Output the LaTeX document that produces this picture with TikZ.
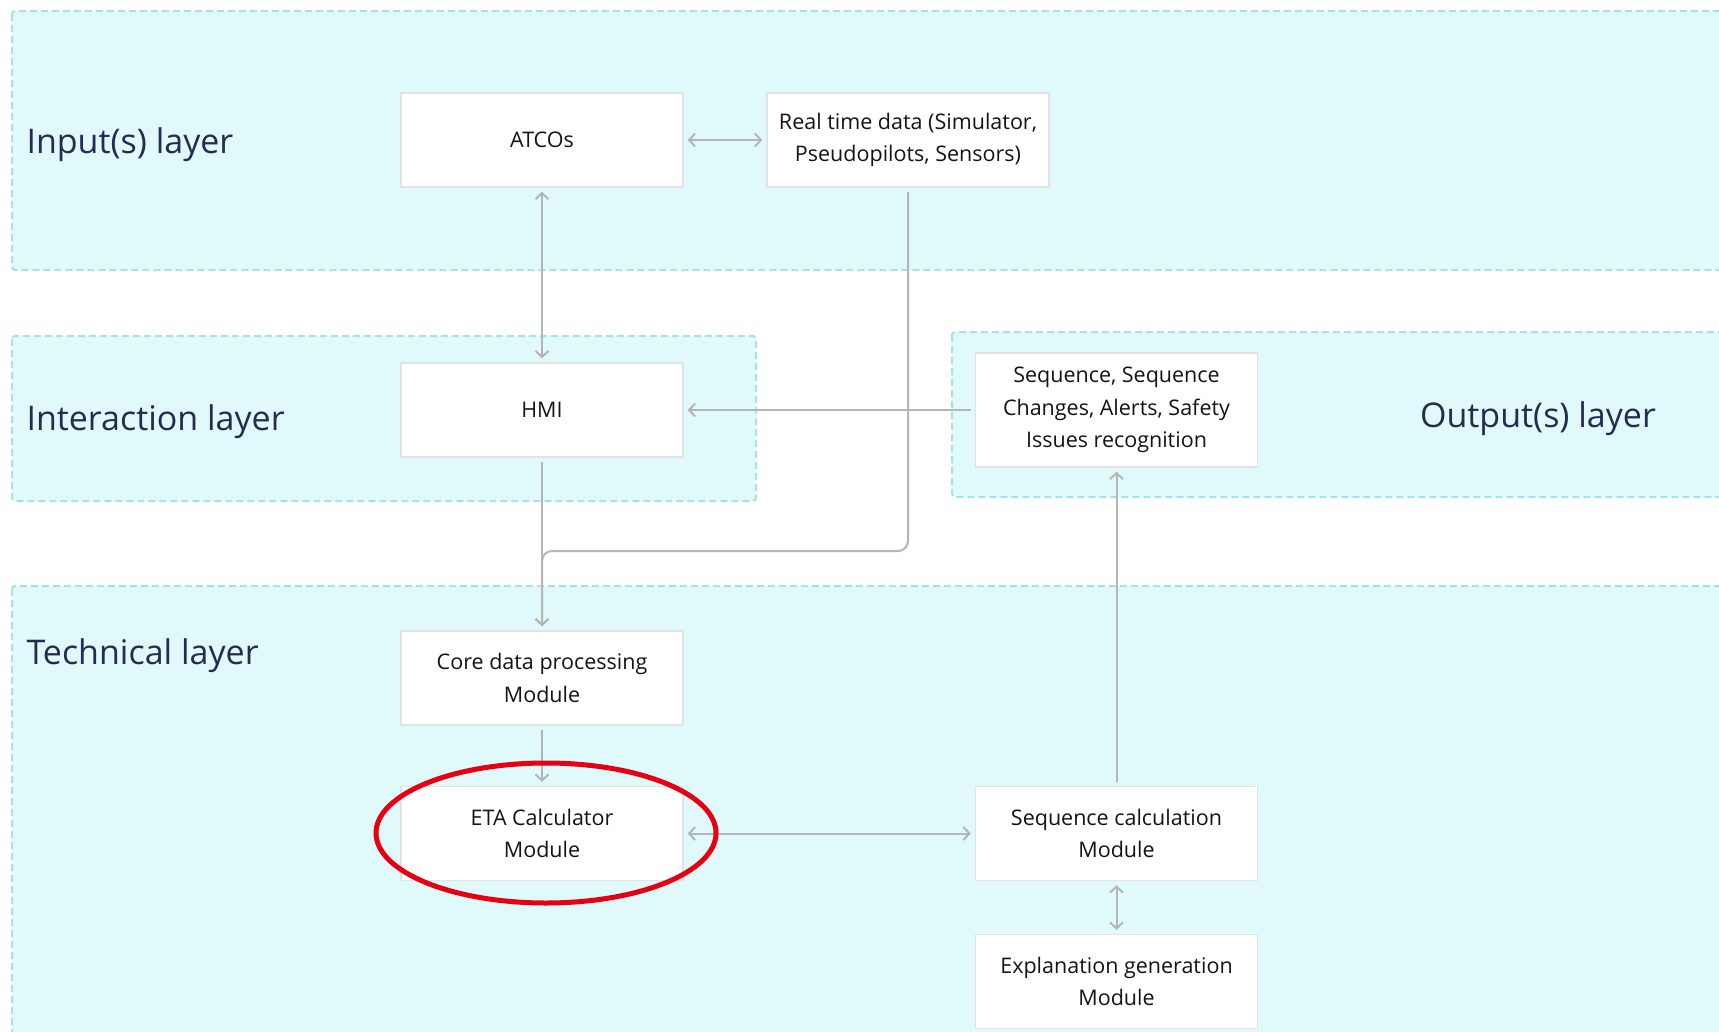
\documentclass[tikz,border=0pt]{standalone}
\usepackage{fontspec}
\setmainfont{Open Sans}
\usetikzlibrary{arrows.meta}
\definecolor{layerfill}{HTML}{E0FAFB}
\definecolor{layerline}{HTML}{A6E3E8}
\definecolor{linkgray}{HTML}{B5B5B5}
\definecolor{boxline}{HTML}{E2E2E2}
\definecolor{labelnavy}{HTML}{262B52}
\definecolor{markred}{HTML}{E60012}

\begin{document}
\begin{tikzpicture}[x=1pt, y=-1pt,
	layer/.style={draw=layerline, fill=layerfill, line width=2pt,
		dash pattern=on 7pt off 4pt, rounded corners=3pt},
	layername/.style={anchor=base west, text=labelnavy,
		font=\fontsize{34}{40}\selectfont},
	module/.style={draw=boxline, fill=white, line width=1.5pt,
		minimum width=282pt, minimum height=94pt, inner sep=0pt, align=center,
		text=black!92, font=\fontsize{21.5}{32.5}\selectfont},
	link/.style={draw=linkgray, line width=2pt, shorten >=4pt, shorten <=4pt},
	oneway/.style={-{Straight Barb[length=6pt,width=13pt]}},
	twoway/.style={{Straight Barb[length=6pt,width=13pt]}-{Straight Barb[length=6pt,width=13pt]}}]
\useasboundingbox (0,0) rectangle (1719,1031);
\clip (0,0) rectangle (1719,1031);

% layers
\draw[layer] (12,11) rectangle (1760,270);
\draw[layer] (12,336) rectangle (756,501);
\draw[layer] (952,332) rectangle (1760,497);
\draw[layer] (12,586) rectangle (1760,1060);

\node[layername] (inlabel) at (23,153) {Input(s) layer};
\node[layername] (interlabel) at (23,430) {Interaction layer};
\node[layername] (techlabel) at (23,664) {Technical layer};
\node[layername, anchor=base] (outlabel) at (1538,427) {Output(s) layer};

% modules
\node[module] (atco) at (542,140) {ATCOs};
\node[module] (rtdata) at (908,140) {Real time data (Simulator,\\Pseudopilots, Sensors)};
\node[module] (hmi) at (542,410) {HMI};
\node[module, minimum height=114pt] (seqout) at (1116.5,410)
	{Sequence, Sequence\\Changes, Alerts, Safety\\Issues recognition};
\node[module] (core) at (542,678) {Core data processing\\Module};
\node[module] (eta) at (542,833.5) {ETA Calculator\\Module};
\node[module] (seqcalc) at (1116.5,833.5) {Sequence calculation\\Module};
\node[module] (expl) at (1116.5,981.5) {Explanation generation\\Module};

% connectors
\coordinate (merge) at (542,551);
\draw[link, twoway] (atco) -- (rtdata);
\draw[link, twoway] (atco) -- (hmi);
\draw[link, oneway] (seqout) -- (hmi);
\draw[link, oneway] (hmi) -- (core);
\draw[link, oneway, rounded corners=10pt] (rtdata.south) |- (merge) -- (core.north);
\draw[link, oneway] (core) -- (eta);
\draw[link, twoway] (eta) -- (seqcalc);
\draw[link, oneway] (seqcalc) -- (seqout);
\draw[link, twoway] (seqcalc) -- (expl);

% highlight
\draw[markred, line width=5pt] (546,833) ellipse [x radius=170, y radius=70];
\end{tikzpicture}
\end{document}
